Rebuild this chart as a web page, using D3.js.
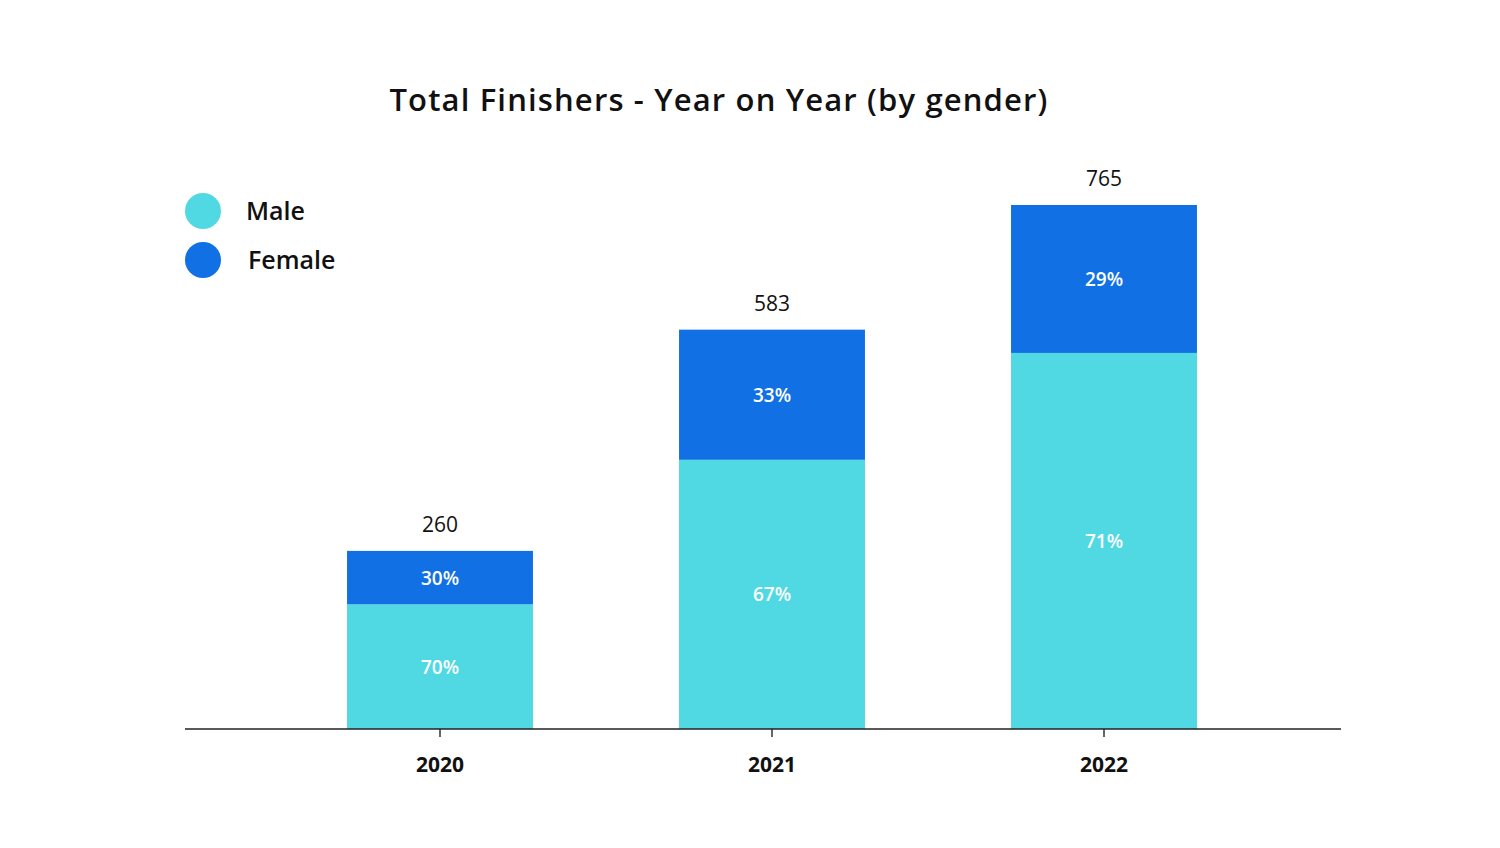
<!DOCTYPE html>
<html><head><meta charset="utf-8">
<script src="https://cdn.jsdelivr.net/npm/d3@7"></script>
<style>
body{margin:0;background:#fff;}
svg{display:block;font-family:"Open Sans","Lato",sans-serif;}
</style></head>
<body><svg id="c" width="1500" height="848"></svg>
<script>
const years = ["2020","2021","2022"];
const maleValues = [182, 393, 549];
const femaleValues = [78, 190, 216];
const totals = [260, 583, 765];
const malePct = ["70%","67%","71%"];
const femalePct = ["30%","33%","29%"];
const seriesNames = ["Male","Female"];
const colors = {Male:"#50D8E3", Female:"#1170E3"};

const svg = d3.select("#c");
const x = d3.scaleBand().domain(years).range([274,1270]).paddingInner(0.44).paddingOuter(0.22);
const y = d3.scaleLinear().domain([0,800]).range([729,181]);

const rows = years.map((yr,i)=>({year:yr, Male:maleValues[i], Female:femaleValues[i], total:totals[i], mp:malePct[i], fp:femalePct[i]}));
const stack = d3.stack().keys(seriesNames)(rows);

const title = svg.append("text").attr("x",719).attr("y",111).attr("text-anchor","middle")
  .attr("font-size",31).attr("font-weight",600).attr("fill","#111")
  .text("Total Finishers - Year on Year (by gender)");
const tw = title.node().getComputedTextLength();
title.attr("letter-spacing", Math.max(0,(658-tw)/41));

const g = svg.append("g");
stack.forEach(s=>{
  g.selectAll(null).data(s).join("rect")
    .attr("x",d=>x(d.data.year)).attr("width",x.bandwidth())
    .attr("y",d=>y(d[1])).attr("height",d=>y(d[0])-y(d[1]))
    .attr("fill",colors[s.key]);
  g.selectAll(null).data(s).join("text")
    .attr("x",d=>x(d.data.year)+x.bandwidth()/2)
    .attr("y",d=>(y(d[0])+y(d[1]))/2+7)
    .attr("text-anchor","middle").attr("fill","#fff")
    .attr("font-size",19).attr("font-weight",600)
    .text(d=>s.key==="Male"?d.data.mp:d.data.fp);
});

g.selectAll(".tot").data(rows).join("text")
  .attr("x",d=>x(d.year)+x.bandwidth()/2).attr("y",d=>y(d.total)-19)
  .attr("text-anchor","middle").attr("font-size",21).attr("fill","#111")
  .text(d=>d.total);

// axis
const axis = d3.axisBottom(x).tickSize(8).tickPadding(20).tickSizeOuter(0);
const ag = svg.append("g").attr("transform","translate(0,729)").call(axis);
ag.select(".domain").remove();
ag.selectAll(".tick line").attr("stroke","#333").attr("stroke-width",1.5);
ag.selectAll(".tick text").attr("font-size",21).attr("font-weight",700).attr("fill","#111")
  .attr("font-family","'Open Sans', Lato, sans-serif");
svg.append("line").attr("x1",185).attr("x2",1341).attr("y1",729).attr("y2",729)
  .attr("stroke","#222").attr("stroke-width",1.5);

// legend
const lg = svg.append("g");
seriesNames.forEach((n,i)=>{
  lg.append("circle").attr("cx",203).attr("cy",211+i*49).attr("r",18).attr("fill",colors[n]);
  lg.append("text").attr("x",246+i*2).attr("y",220+i*49).attr("font-size",25).attr("font-weight",600)
    .attr("fill","#111").text(n);
});
</script></body></html>
